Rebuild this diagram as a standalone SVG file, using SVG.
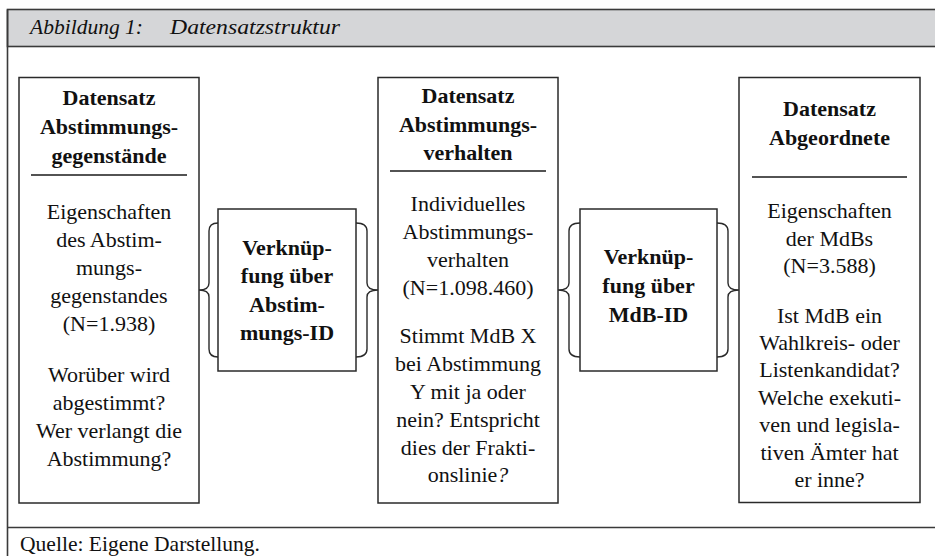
<svg xmlns="http://www.w3.org/2000/svg" width="935" height="556" viewBox="0 0 935 556">
<style>
.frame{fill:none;stroke:#3a3a3a;stroke-width:1.6}
.box{fill:#fff;stroke:#2a2a2a;stroke-width:1.5}
.rule{stroke:#1a1a1a;stroke-width:1.5}
.brace{fill:none;stroke:#2a2a2a;stroke-width:1.4}
.h{font-family:"Liberation Serif","Times New Roman",serif;font-size:22px;font-weight:bold;fill:#111;text-anchor:middle}
.b{font-family:"Liberation Serif","Times New Roman",serif;font-size:22px;fill:#111;text-anchor:middle}
.cap{font-family:"Liberation Serif","Times New Roman",serif;font-size:21px;font-style:italic;fill:#111}
.src{font-family:"Liberation Serif","Times New Roman",serif;font-size:21px;fill:#111}
</style>
<rect width="935" height="556" fill="#fff"/>
<g id="frame">
<rect x="7.5" y="9.5" width="930" height="37" fill="#d5d6d8" stroke="#3a3a3a" stroke-width="1.6"/>
<path class="frame" d="M7.5,9.5 L7.5,560"/>
<path class="frame" d="M7.5,527.5 L935,527.5"/>
<text class="cap" x="30" y="34" textLength="113" lengthAdjust="spacingAndGlyphs">Abbildung 1:</text>
<text class="cap" x="170" y="34" textLength="170" lengthAdjust="spacingAndGlyphs">Datensatzstruktur</text>
<text class="src" x="20" y="551" textLength="240" lengthAdjust="spacingAndGlyphs">Quelle: Eigene Darstellung.</text>
</g>
<g id="connectors">
<path class="brace" d="M218,223 Q209,223 209,231 L209,283 Q209,290 199,290 Q209,290 209,297 L209,349 Q209,357 218,357"/>
<path class="brace" d="M356,223 Q367,223 367,231 L367,283 Q367,290 378,290 Q367,290 367,297 L367,349 Q367,357 356,357"/>
<path class="brace" d="M580,223 Q569,223 569,231 L569,283 Q569,290 558,290 Q569,290 569,297 L569,349 Q569,357 580,357"/>
<path class="brace" d="M717,223 Q728,223 728,231 L728,283 Q728,290 739,290 Q728,290 728,297 L728,349 Q728,357 717,357"/>
</g>
<g id="ds-gegenstaende">
<rect class="box" x="19" y="77.5" width="180" height="425.5"/>
<line class="rule" x1="31" y1="175" x2="187" y2="175"/>
<text class="h" x="109" y="105">Datensatz</text>
<text class="h" x="109" y="134">Abstimmungs-</text>
<text class="h" x="109" y="163">gegenstände</text>
<text class="b" x="109" y="219">Eigenschaften</text>
<text class="b" x="109" y="247">des Abstim-</text>
<text class="b" x="109" y="275">mungs-</text>
<text class="b" x="109" y="303">gegenstandes</text>
<text class="b" x="109" y="331">(N=1.938)</text>
<text class="b" x="109" y="382">Worüber wird</text>
<text class="b" x="109" y="410">abgestimmt?</text>
<text class="b" x="109" y="438">Wer verlangt die</text>
<text class="b" x="109" y="466">Abstimmung?</text>
</g>
<g id="link-abstimmungs-id">
<rect class="box" x="218" y="209" width="138" height="162"/>
<text class="h" x="287" y="255">Verknüp-</text>
<text class="h" x="287" y="283">fung über</text>
<text class="h" x="287" y="312">Abstim-</text>
<text class="h" x="287" y="340">mungs-ID</text>
</g>
<g id="ds-verhalten">
<rect class="box" x="378" y="77.5" width="180" height="425.5"/>
<line class="rule" x1="390" y1="171" x2="546" y2="171"/>
<text class="h" x="468" y="103">Datensatz</text>
<text class="h" x="468" y="132">Abstimmungs-</text>
<text class="h" x="468" y="160">verhalten</text>
<text class="b" x="468" y="211">Individuelles</text>
<text class="b" x="468" y="239">Abstimmungs-</text>
<text class="b" x="468" y="267">verhalten</text>
<text class="b" x="468" y="295">(N=1.098.460)</text>
<text class="b" x="468" y="343">Stimmt MdB X</text>
<text class="b" x="468" y="371">bei Abstimmung</text>
<text class="b" x="468" y="399">Y mit ja oder</text>
<text class="b" x="468" y="427">nein? Entspricht</text>
<text class="b" x="468" y="455">dies der Frakti-</text>
<text class="b" x="468" y="482">onslinie<tspan font-style="italic">?</tspan></text>
</g>
<g id="link-mdb-id">
<rect class="box" x="580" y="209" width="137" height="162"/>
<text class="h" x="648.5" y="264">Verknüp-</text>
<text class="h" x="648.5" y="293">fung über</text>
<text class="h" x="648.5" y="322">MdB-ID</text>
</g>
<g id="ds-abgeordnete">
<rect class="box" x="739" y="77.5" width="181" height="425"/>
<line class="rule" x1="752" y1="177" x2="907" y2="177"/>
<text class="h" x="829.5" y="116">Datensatz</text>
<text class="h" x="829.5" y="145">Abgeordnete</text>
<text class="b" x="829.5" y="218">Eigenschaften</text>
<text class="b" x="829.5" y="246">der MdBs</text>
<text class="b" x="829.5" y="273">(N=3.588)</text>
<text class="b" x="829.5" y="323">Ist MdB ein</text>
<text class="b" x="829.5" y="350">Wahlkreis- oder</text>
<text class="b" x="829.5" y="377">Listenkandidat?</text>
<text class="b" x="829.5" y="405">Welche exekuti-</text>
<text class="b" x="829.5" y="432">ven und legisla-</text>
<text class="b" x="829.5" y="460">tiven Ämter hat</text>
<text class="b" x="829.5" y="487">er inne?</text>
</g>
</svg>
